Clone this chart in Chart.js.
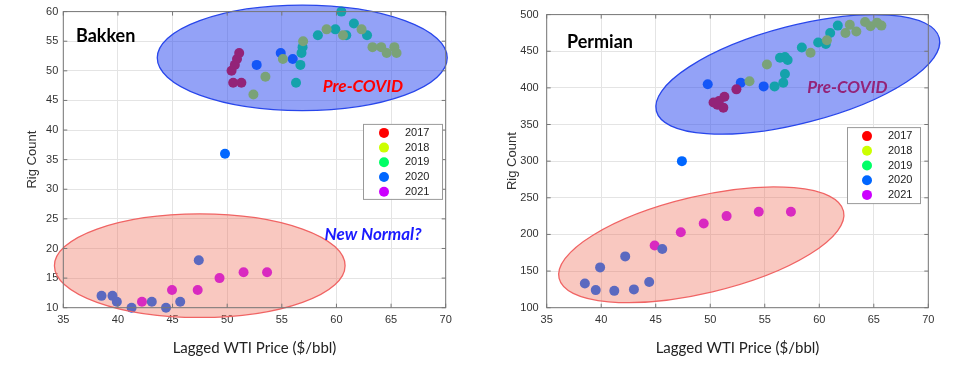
<!DOCTYPE html>
<html lang="en">
<head>
<meta charset="UTF-8">
<script src="https://cdn.jsdelivr.net/npm/chart.js"></script>
<title>Rig Count vs Lagged WTI Price</title>
<style>
  body { margin: 0; background: #fff; }
  .wrap { position: relative; width: 975px; height: 366px; }
  #bakken { position: absolute; left: 0; top: 0; }
  #permian { position: absolute; left: 480px; top: 0; }
</style>
</head>
<body>
<div class="wrap">
  <canvas id="bakken" width="480" height="366"></canvas>
  <canvas id="permian" width="495" height="366"></canvas>
</div>
<script>
const years = ['2017', '2018', '2019', '2020', '2021'];
const yearColors = ['#ff0000', '#ccff00', '#00ff66', '#0066ff', '#cc00ff'];
const xTicks = [35, 40, 45, 50, 55, 60, 65, 70];
const bakkenTicks = [10, 15, 20, 25, 30, 35, 40, 45, 50, 55, 60];
const permianTicks = [100, 150, 200, 250, 300, 350, 400, 450, 500];

// Bakken [lagged WTI, rig count]
const bakken2017 = [[50.4, 50], [50.7, 51], [50.9, 52], [51.1, 53], [50.55, 48], [51.3, 48]];
const bakken2018 = [[52.4, 46], [53.5, 49], [55.1, 52], [56.95, 55], [59.1, 57], [60.6, 56],
                    [62.3, 57], [63.3, 54], [64.1, 54], [64.6, 53], [65.3, 54], [65.5, 53]];
const bakken2019 = [[56.3, 48], [56.7, 51], [56.8, 53], [56.9, 54], [58.3, 56], [59.9, 57],
                    [60.45, 60], [60.9, 56], [61.6, 58], [62.8, 56]];
const bakken2020 = [[52.7, 51], [54.9, 53], [56.0, 52], [49.8, 36], [38.5, 12], [39.5, 12],
                    [39.9, 11], [41.25, 10], [43.1, 11], [44.4, 10], [45.7, 11], [47.4, 18]];
const bakken2021 = [[42.2, 11], [44.95, 13], [47.3, 13], [49.3, 15], [51.5, 16], [53.65, 16]];

// Permian [lagged WTI, rig count]
const permian2017 = [[50.3, 380], [50.8, 382], [50.65, 377], [51.2, 373], [51.3, 388], [52.4, 398]];
const permian2018 = [[53.6, 409], [55.2, 432], [59.2, 448], [60.7, 465], [62.4, 475], [62.8, 486],
                     [63.4, 477], [64.2, 490], [64.7, 484], [65.3, 489], [65.7, 485]];
const permian2019 = [[55.9, 402], [56.7, 407], [56.85, 419], [56.4, 441], [56.85, 442], [57.1, 438],
                     [58.4, 455], [59.9, 462], [60.6, 460], [61.0, 475], [61.7, 485]];
const permian2020 = [[49.77, 405], [52.8, 407], [54.9, 402], [47.4, 300], [38.5, 133], [39.5, 124],
                     [39.9, 155], [41.2, 123], [42.2, 170], [43.0, 125], [44.4, 135], [45.6, 180]];
const permian2021 = [[44.9, 185], [47.3, 203], [49.4, 215], [51.5, 225], [54.45, 231], [57.4, 231]];

const blueFill = 'rgba(40, 70, 240, 0.5)';
const blueLine = 'rgb(40, 70, 235)';
const redFill = 'rgba(240, 110, 90, 0.38)';
const redLine = 'rgb(240, 100, 100)';

// draws the box, inner ticks, ellipses, notes and the little legend
const extras = {
    id: 'extras',
    afterDatasetsDraw(chart, args, opts) {
        const ctx = chart.ctx;
        const xs = chart.scales.x, ys = chart.scales.y;
        const area = chart.chartArea;

        function note(t) {
            ctx.save();
            ctx.font = t.font;
            ctx.fillStyle = t.color;
            ctx.textAlign = 'left';
            ctx.textBaseline = 'middle';
            ctx.fillText(t.text, xs.getPixelForValue(t.x), ys.getPixelForValue(t.y));
            ctx.restore();
        }

        (opts.notes || []).filter(t => t.under).forEach(note);

        (opts.ellipses || []).forEach(e => {
            const cx = xs.getPixelForValue(e.x), cy = ys.getPixelForValue(e.y);
            const rx = Math.abs(xs.getPixelForValue(e.x + e.rx) - cx);
            const ry = Math.abs(ys.getPixelForValue(e.y + e.ry) - cy);
            ctx.save();
            ctx.beginPath();
            ctx.ellipse(cx, cy, rx, ry, -e.rot * Math.PI / 180, 0, 2 * Math.PI);
            ctx.fillStyle = e.fill;
            ctx.fill();
            ctx.lineWidth = 1.3;
            ctx.strokeStyle = e.line;
            ctx.stroke();
            ctx.restore();
        });

        (opts.notes || []).filter(t => !t.under).forEach(note);

        // axes box with inward ticks
        ctx.save();
        ctx.strokeStyle = '#777';
        ctx.lineWidth = 1;
        ctx.strokeRect(area.left, area.top, area.right - area.left, area.bottom - area.top);
        ctx.beginPath();
        xs.ticks.forEach(t => {
            const px = xs.getPixelForValue(t.value);
            ctx.moveTo(px, area.bottom); ctx.lineTo(px, area.bottom - 4);
            ctx.moveTo(px, area.top); ctx.lineTo(px, area.top + 4);
        });
        ys.ticks.forEach(t => {
            const py = ys.getPixelForValue(t.value);
            ctx.moveTo(area.left, py); ctx.lineTo(area.left + 4, py);
            ctx.moveTo(area.right, py); ctx.lineTo(area.right - 4, py);
        });
        ctx.stroke();
        ctx.restore();

        // legend
        const lg = opts.legend;
        const left = area.right - lg.right - lg.width;
        const top = area.top + lg.top;
        ctx.save();
        ctx.fillStyle = '#fff';
        ctx.fillRect(left, top, lg.width, lg.height);
        ctx.strokeStyle = '#999';
        ctx.strokeRect(left + 0.5, top + 0.5, lg.width, lg.height);
        ctx.font = '11px "Liberation Sans", Arial, sans-serif';
        ctx.textBaseline = 'middle';
        chart.data.datasets.forEach((ds, i) => {
            const y = top + 9 + i * 14.7;
            ctx.beginPath();
            ctx.arc(left + lg.dot, y, 5, 0, 2 * Math.PI);
            ctx.fillStyle = ds.backgroundColor;
            ctx.fill();
            ctx.fillStyle = '#222';
            ctx.fillText(ds.label, left + lg.text, y);
        });
        ctx.restore();
    }
};

function makeDatasets(groups) {
    return groups.map((pts, i) => ({
        label: years[i],
        data: pts.map(p => ({x: p[0], y: p[1]})),
        backgroundColor: yearColors[i],
        borderWidth: 0,
        pointRadius: 5,
        pointHoverRadius: 5,
        clip: false
    }));
}

function makeChart(id, groups, yTicks, padRight, yWidth, yPad, extraOpts) {
    const ctx = document.getElementById(id).getContext('2d');
    return new Chart(ctx, {
        type: 'scatter',
        data: { datasets: makeDatasets(groups) },
        options: {
            responsive: false,
            animation: false,
            devicePixelRatio: 1,
            layout: { padding: { left: 0, right: padRight, top: 6.5, bottom: 0 } },
            plugins: {
                legend: { display: false },
                tooltip: { enabled: false },
                extras: extraOpts
            },
            scales: {
                x: {
                    type: 'linear',
                    min: 35, max: 70,
                    afterBuildTicks: s => { s.ticks = xTicks.map(v => ({value: v})); },
                    afterFit: s => { s.height = 58.3; },
                    grid: { color: '#e4e4e4', drawTicks: false },
                    border: { display: false },
                    ticks: { color: '#333', padding: 6, font: { family: '"Liberation Sans", Arial', size: 11 } },
                    title: {
                        display: true,
                        text: 'Lagged WTI Price ($/bbl)',
                        color: '#222',
                        font: { family: 'Lato', size: 15 },
                        padding: { bottom: 9 }
                    }
                },
                y: {
                    type: 'linear',
                    min: yTicks[0], max: yTicks[yTicks.length - 1],
                    afterBuildTicks: s => { s.ticks = yTicks.map(v => ({value: v})); },
                    afterFit: s => { s.width = yWidth; },
                    grid: { color: '#e4e4e4', drawTicks: false },
                    border: { display: false },
                    ticks: { color: '#333', padding: yPad, font: { family: '"Liberation Sans", Arial', size: 11 } },
                    title: {
                        display: true,
                        text: 'Rig Count',
                        color: '#333',
                        font: { family: '"Liberation Sans", Arial', size: 13 },
                        padding: { top: 25 }
                    }
                }
            }
        },
        plugins: [extras]
    });
}

makeChart('bakken',
    [bakken2017, bakken2018, bakken2019, bakken2020, bakken2021],
    bakkenTicks, 34.3, 63.3, 5,
    {
        ellipses: [
            { x: 56.87, y: 52.19, rx: 13.27, ry: 8.9, rot: 0, fill: blueFill, line: blueLine },
            { x: 47.49, y: 17.1, rx: 13.3, ry: 8.75, rot: 0, fill: redFill, line: redLine }
        ],
        notes: [
            { text: 'Bakken', x: 36.16, y: 55.8, color: '#000', font: 'bold 18px Lato' },
            { text: 'Pre-COVID', x: 58.75, y: 47.3, color: '#ff0000', font: 'italic bold 17px Lato' },
            { text: 'New Normal?', x: 58.9, y: 22.4, color: '#1a1aff', font: 'italic bold 17px Lato' }
        ],
        legend: { right: 3.7, top: 112.3, width: 79, height: 75, dot: 21, text: 42 }
    });

makeChart('permian',
    [permian2017, permian2018, permian2019, permian2020, permian2021],
    permianTicks, 46.7, 66.7, 8,
    {
        ellipses: [
            { x: 58.03, y: 418.4, rx: 13.4, ry: 66.6, rot: 14.5, fill: blueFill, line: blueLine },
            { x: 49.18, y: 185.9, rx: 13.4, ry: 66, rot: 13.3, fill: redFill, line: redLine }
        ],
        notes: [
            { text: 'Permian', x: 36.86, y: 462.9, color: '#000', font: 'bold 18px Lato' },
            { text: 'Pre-COVID', x: 58.9, y: 400.5, color: '#ff0000', font: 'italic bold 17px Lato', under: true }
        ],
        legend: { right: 8.3, top: 112.5, width: 73, height: 76, dot: 20, text: 41 }
    });
</script>
</body>
</html>
